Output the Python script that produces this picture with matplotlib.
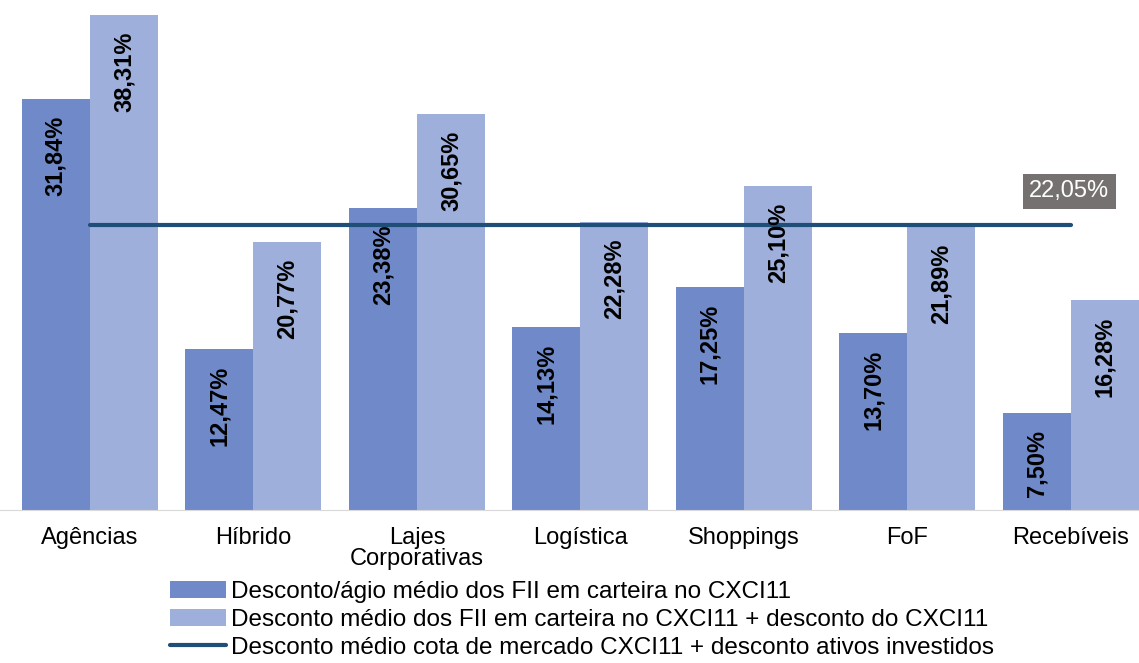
import matplotlib.pyplot as plt
import numpy as np

plt.rcParams["font.family"] = ["Liberation Sans", "DejaVu Sans"]

categories = ["Agências", "Híbrido", "Lajes\nCorporativas", "Logística",
              "Shoppings", "FoF", "Recebíveis"]
desconto_agio = [31.84, 12.47, 23.38, 14.13, 17.25, 13.70, 7.50]
desconto_total = [38.31, 20.77, 30.65, 22.28, 25.10, 21.89, 16.28]
desconto_mercado = 22.05

labels = [
    "Desconto/ágio médio dos FII em carteira no CXCI11",
    "Desconto médio dos FII em carteira no CXCI11 + desconto do CXCI11",
    "Desconto médio cota de mercado CXCI11 + desconto ativos investidos",
]


def fmt(v):
    return f"{v:.2f}%".replace(".", ",")


fig = plt.figure(figsize=(11.39, 6.63), dpi=100)
ax = fig.add_axes([0.0, 0.2308, 1.0, 0.7692])

x = np.arange(len(categories))
w = 0.416
dark = "#6F89C9"
light = "#9FAFDB"
b1 = ax.bar(x - w / 2, desconto_agio, w, color=dark, label=labels[0])
b2 = ax.bar(x + w / 2, desconto_total, w, color=light, label=labels[1])
line, = ax.plot([x[0], x[-1]], [desconto_mercado] * 2, color="#1F4E79",
                lw=3, label=labels[2], solid_capstyle="round")

for xs, vals in ((x - w / 2, desconto_agio), (x + w / 2, desconto_total)):
    for xi, v in zip(xs, vals):
        ax.text(xi, v - 1.3, fmt(v), rotation=90, ha="center", va="top",
                fontsize=17, fontweight="bold", color="black")

ax.text(5.99, desconto_mercado + 2.6, fmt(desconto_mercado), ha="center",
        va="center", fontsize=17, color="white",
        bbox=dict(boxstyle="square,pad=0.28", fc="#767171", ec="none"))

ax.set_xlim(-0.55, 6.416)
ax.set_ylim(0, 39.47)
ax.set_xticks(x)
ax.set_xticklabels(categories, fontsize=17, linespacing=0.95)
ax.tick_params(axis="x", length=0, pad=12)
ax.set_yticks([])
for side in ("top", "right", "left"):
    ax.spines[side].set_visible(False)
ax.spines["bottom"].set_color("#D9D9D9")

fig.legend(handles=[b1, b2, line], loc="upper left",
           bbox_to_anchor=(170 / 1139, 1 - 581 / 663), frameon=False,
           fontsize=17.5, handlelength=2.3, handletextpad=0.2,
           labelspacing=0.24, borderaxespad=0, borderpad=0)

fig.savefig("out.png", dpi=100)
